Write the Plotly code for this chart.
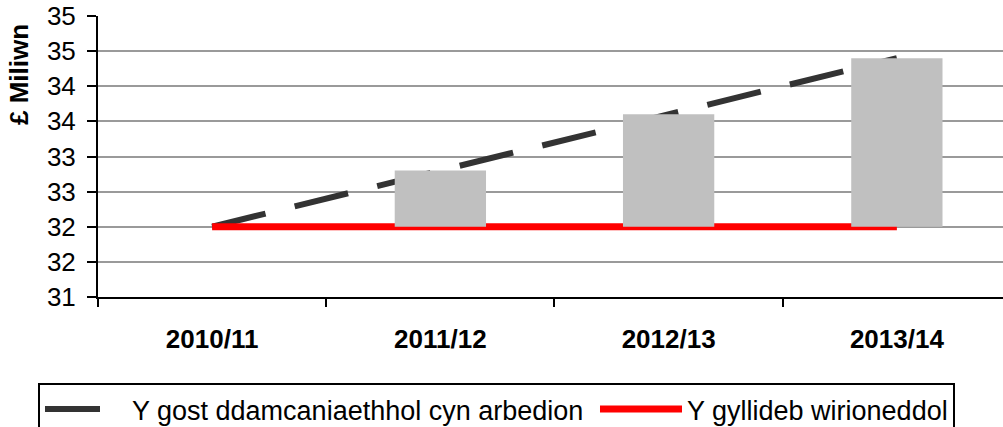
import plotly.graph_objects as go

# ---- data ----
categories = ["2010/11", "2011/12", "2012/13", "2013/14"]
theoretical_cost = [32.0, 32.8, 33.6, 34.4]   # Y gost ddamcaniaethhol cyn arbedion
actual_budget = [32.0, 32.0, 32.0, 32.0]      # Y gyllideb wirioneddol
y_tick_values = [31, 31.5, 32, 32.5, 33, 33.5, 34, 34.5, 35]
y_tick_labels = ["31", "32", "32", "33", "33", "34", "34", "35", "35"]

series_names = ["Y gost ddamcaniaethhol cyn arbedion", "Y gyllideb wirioneddol"]
y_title = "£ Miliwn"

FONT = "Liberation Sans, Arial, sans-serif"

savings = [c - b for c, b in zip(theoretical_cost, actual_budget)]

fig = go.Figure()

fig.add_trace(go.Scatter(
    x=categories, y=theoretical_cost, name=series_names[0], mode="lines",
    line=dict(color="#333333", width=6, dash="55px,30px"),
    xaxis="x", yaxis="y", hoverinfo="skip", legendwidth=458,
))
fig.add_trace(go.Scatter(
    x=categories, y=actual_budget, name=series_names[1], mode="lines",
    line=dict(color="#ff0000", width=7),
    xaxis="x", yaxis="y", hoverinfo="skip",
))
fig.add_trace(go.Bar(
    x=categories, y=savings, base=actual_budget, width=0.4,
    marker=dict(color="#c0c0c0", line=dict(width=0)),
    showlegend=False, xaxis="x", yaxis="y2", hoverinfo="skip",
))

fig.update_layout(
    width=1003, height=427,
    margin=dict(l=98, r=0, t=16, b=130, autoexpand=False),
    paper_bgcolor="white", plot_bgcolor="white",
    font=dict(family=FONT, size=26, color="black"),
    showlegend=True,
    xaxis=dict(
        type="category", range=[-0.5, 3.465],
        showgrid=False, showline=True, linecolor="black", linewidth=2,
        ticks="outside", tickson="boundaries", ticklen=8, tickwidth=2, tickcolor="black",
        tickfont=dict(family=FONT, size=26, color="black", weight="bold"),
        ticklabelstandoff=18, zeroline=False,
    ),
    yaxis=dict(
        range=[31, 35], tickvals=y_tick_values, ticktext=y_tick_labels,
        showgrid=True, gridcolor="#9a9a9a", gridwidth=2,
        showline=True, linecolor="black", linewidth=2,
        ticks="outside", ticklen=9, tickwidth=2, tickcolor="black",
        tickfont=dict(family=FONT, size=26, color="black"),
        ticklabelstandoff=6, zeroline=False,
    ),
    yaxis2=dict(range=[31, 35], overlaying="y", visible=False, showgrid=False),
    legend=dict(
        orientation="h", x=-0.0663, xanchor="left", y=-0.306, yanchor="top",
        bordercolor="black", borderwidth=2, bgcolor="white",
        font=dict(family=FONT, size=27, color="black"),
        itemwidth=82,
    ),
    annotations=[dict(
        text="<b>" + y_title + "</b>", textangle=-90,
        xref="paper", yref="paper", x=(19 - 98) / 905, y=(297 - 75) / 281,
        xanchor="center", yanchor="middle", showarrow=False,
        font=dict(family=FONT, size=26, color="black"),
    )],
)

fig.write_html(
    "out.html",
    config={"displayModeBar": False},
    post_script="document.body.style.margin='0';document.body.style.overflow='hidden';",
)
